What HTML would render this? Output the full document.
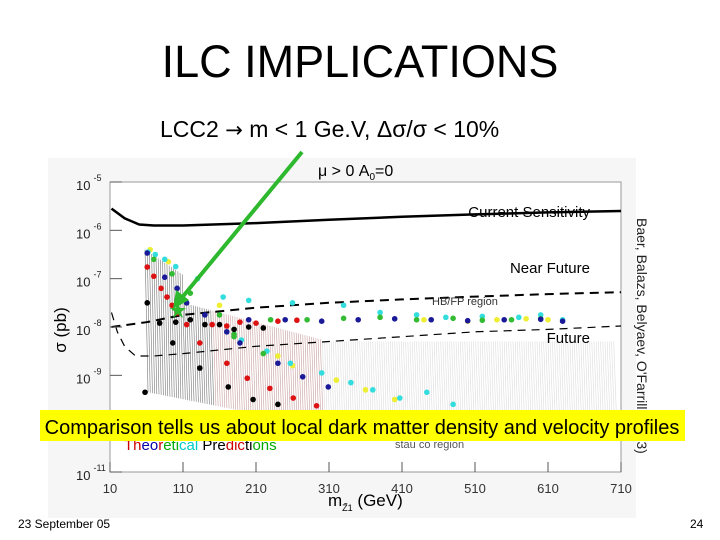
<!DOCTYPE html>
<html><head><meta charset="utf-8">
<style>
html,body{margin:0;padding:0;background:#fff;}
body{width:720px;height:540px;position:relative;overflow:hidden;font-family:"Liberation Sans",sans-serif;}
.t{position:absolute;white-space:nowrap;}
</style></head>
<body>
<div class="t" style="left:0;width:720px;top:36px;text-align:center;font-size:45px;">ILC IMPLICATIONS</div>
<div class="t" style="left:160px;top:116px;font-size:23px;">LCC2 <span style="font-family:'DejaVu Sans';font-size:21px">→</span> m &lt; 1 Ge.V, Δσ/σ &lt; 10%</div>
<svg id="chart" width="720" height="540" style="position:absolute;left:0;top:0" xmlns="http://www.w3.org/2000/svg" font-family="Liberation Sans, sans-serif">
<rect x="48" y="158" width="588" height="360" fill="#f6f6f6"/>
<rect x="110" y="182" width="511" height="290" fill="#fff" stroke="#999" stroke-width="1"/>
<g id="hatch"></g><g id="curves"></g><g id="dots"></g><g id="ticks"></g>
<text x="318" y="176" font-size="16">μ &gt; 0  A<tspan font-size="10" dy="4">0</tspan><tspan dy="-4">=0</tspan></text>
<text x="590" y="217" font-size="15" text-anchor="end">Current Sensitivity</text>
<text x="590" y="273" font-size="15" text-anchor="end">Near Future</text>
<text x="590" y="343" font-size="15" text-anchor="end">Future</text>
<text x="432" y="305" font-size="11" fill="#333">HB/FP region</text>
<text x="395" y="448" font-size="11" fill="#555">stau co region</text>
<text x="124" y="450" font-size="15"><tspan fill="#c00">Th</tspan><tspan fill="#00a">eo</tspan><tspan fill="#c00">r</tspan><tspan fill="#0a0">eti</tspan><tspan fill="#0cc">cal</tspan><tspan fill="#000"> Pre</tspan><tspan fill="#c00">dic</tspan><tspan fill="#000">ti</tspan><tspan fill="#0a0">ons</tspan></text>
<text transform="translate(66,330) rotate(-90)" font-size="17" text-anchor="middle">σ (pb)</text>
<text x="328" y="506" font-size="17">m<tspan font-size="9" dy="5">Z̃1</tspan><tspan dy="-5"> (GeV)</tspan></text>
<text transform="translate(637,218) rotate(90)" font-size="14" fill="#222">Baer, Balazs, Belyaev, O'Farrill (2003)</text>
<g>
<line x1="302" y1="152" x2="180" y2="300" stroke="#2db82d" stroke-width="4"/>
<polygon points="173,309 176,290 189,300" fill="#2db82d"/>
<polygon points="178,302 180,308 186,308 181,312 183,318 178,314 173,318 175,312 170,308 176,308" fill="#2db82d"/>
</g>
<rect x="40" y="410" width="645" height="31" fill="#ffff00"/>
<text x="362" y="434" font-size="20" text-anchor="middle">Comparison tells us about local dark matter density and velocity profiles</text>
</svg>
<div class="t" style="left:18px;top:517px;font-size:12px;">23 September 05</div>
<div class="t" style="left:690px;top:517px;font-size:12px;">24</div>
<script>
const xTicks=[10,110,210,310,410,510,610,710];
const yDecades=[-5,-6,-7,-8,-9,-10,-11];
const currentM=[12,30,50,70,110,210,310,410,510,610,710];
const currentL=[-5.55,-5.75,-5.88,-5.9,-5.9,-5.85,-5.78,-5.72,-5.67,-5.63,-5.6];
const nearM=[12,60,110,210,310,410,510,610,710];
const nearL=[-8.0,-7.9,-7.75,-7.6,-7.5,-7.43,-7.37,-7.32,-7.28];
const futureM=[12,20,30,45,70,110,210,310,410,510,610,710];
const futureL=[-7.7,-8.1,-8.4,-8.6,-8.6,-8.55,-8.4,-8.3,-8.2,-8.1,-8.05,-7.98];
const cyanM=[62,72,85,100,130,165,200,260,330,380,430,470,520,570,600,630,190,225,257,300,340,370,407,444,480];
const cyanL=[-6.45,-6.5,-6.6,-6.75,-7.0,-7.38,-7.45,-7.5,-7.55,-7.7,-7.75,-7.8,-7.78,-7.8,-7.75,-7.85,-8.27,-8.5,-8.75,-8.95,-9.15,-9.3,-9.47,-9.35,-9.6];
const redM=[61,70,80,88,95,102,115,133,150,170,188,210,240,266,170,198,229,261,293];
const redL=[-6.76,-6.95,-7.2,-7.38,-7.55,-7.71,-7.95,-8.33,-7.95,-7.98,-7.9,-7.92,-7.88,-7.86,-8.75,-9.06,-9.27,-9.47,-9.63];
const blueM=[61,85,102,115,140,200,250,300,350,400,450,500,550,600,630,170,188,240,274,309];
const blueL=[-6.47,-6.97,-7.2,-7.5,-7.75,-7.85,-7.85,-7.88,-7.85,-7.83,-7.85,-7.87,-7.85,-7.84,-7.88,-8.1,-8.33,-8.75,-9.03,-9.24];
const greenM=[70,95,120,160,180,230,280,330,380,430,480,520,560,600,180,220];
const greenL=[-6.6,-6.9,-7.3,-7.75,-8.15,-7.85,-7.85,-7.82,-7.8,-7.85,-7.82,-7.86,-7.85,-7.83,-8.2,-8.55];
const yellowM=[65,90,160,240,260,320,360,400,440,500,540,580,610];
const yellowL=[-6.4,-6.65,-7.55,-8.6,-8.8,-9.1,-9.3,-9.5,-7.85,-7.88,-7.85,-7.83,-7.85];
const blackM=[61,78,96,133,172,206,240,100,120,140,160,180,200,220,58];
const blackL=[-7.5,-7.92,-8.33,-8.85,-9.24,-9.5,-9.6,-7.9,-7.85,-7.95,-7.95,-8.05,-8.0,-8.02,-9.35];
const X=m=>110+(m-10)*511/700;
const Y=l=>182+(-5-l)*290/6;
const NS="http://www.w3.org/2000/svg";
function mk(tag,parent,attrs){const e=document.createElementNS(NS,tag);for(const k in attrs)e.setAttribute(k,attrs[k]);document.getElementById(parent).appendChild(e);return e;}
function path(ms,ls){return ms.map((m,i)=>(i?'L':'M')+X(m).toFixed(1)+','+Y(ls[i]).toFixed(1)).join(' ');}
for(let m=58;m<=700;m+=3){
  const top=m<110?-6.4-(m-58)*0.01:(m<300?-7.5-(m-110)*0.004:-8.3);
  const bot=m<300?-9.35-(m-58)*0.003:-10.2+(m-300)*0.0005;
  const col=m<150?'#777':(m<300?'#c9a0a0':'#ddd');
  const l=mk('line','hatch',{x1:X(m),y1:Y(top),x2:X(m)+3,y2:Y(bot),stroke:col,'stroke-width':0.6});
  
  
}
let c=mk('path','curves',{d:path(currentM,currentL),fill:'none',stroke:'#000','stroke-width':2.5});


c=mk('path','curves',{d:path(nearM,nearL),fill:'none',stroke:'#000','stroke-width':2,'stroke-dasharray':'9,6'});


c=mk('path','curves',{d:path(futureM,futureL),fill:'none',stroke:'#000','stroke-width':1.2,'stroke-dasharray':'8,6'});


const series=[[yellowM,yellowL,'#eeee33','yellow'],[cyanM,cyanL,'#33dddd','cyan'],[greenM,greenL,'#33bb33','green'],[blueM,blueL,'#1a1a99','blue'],[redM,redL,'#dd1111','red'],[blackM,blackL,'#000','black']];
series.forEach(s=>{s[0].forEach((m,i)=>{
  const d=mk('circle','dots',{cx:X(m),cy:Y(s[1][i]),r:2.8,fill:s[2]});
  
  
});});
xTicks.forEach(v=>{
  const t=mk('text','ticks',{x:X(v),y:493,'font-size':13,'text-anchor':'middle',fill:'#333'});t.textContent=v;
  
  
  const l=mk('line','ticks',{x1:X(v),y1:472,x2:X(v),y2:462,stroke:'#555'});
  
  
});
yDecades.forEach(v=>{
  const t=mk('text','ticks',{x:76,y:Y(v)+8,'font-size':13,fill:'#222'});
  t.innerHTML='10<tspan font-size="9" dy="-9" dx="3">'+v+'</tspan>';
  
  
  const l=mk('line','ticks',{x1:110,y1:Y(v),x2:122,y2:Y(v),stroke:'#555'});
  
  
});
</script>
</body></html>
